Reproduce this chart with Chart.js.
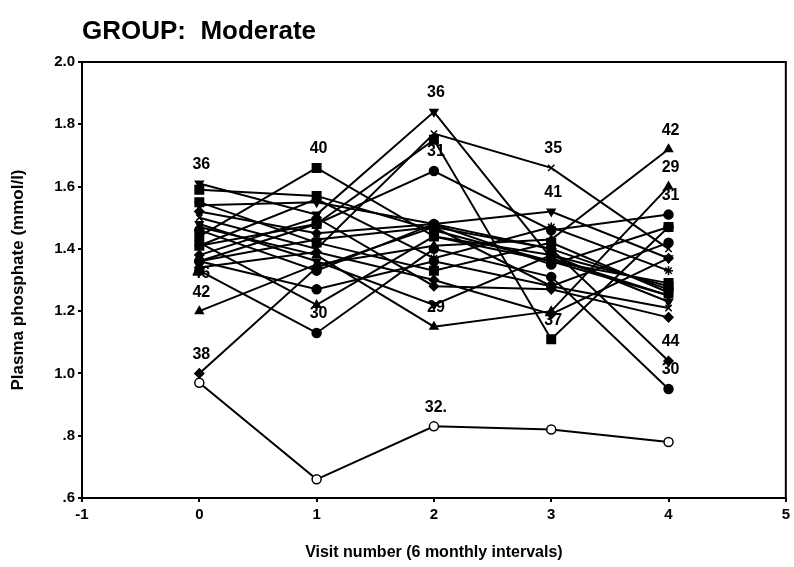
<!DOCTYPE html>
<html>
<head>
<meta charset="utf-8">
<script src="https://cdn.jsdelivr.net/npm/chart.js@4/dist/chart.umd.min.js"></script>
<style>
  html, body { margin: 0; padding: 0; background: #fff; }
</style>
</head>
<body>
<canvas id="phosChart" width="794" height="567"></canvas>
<script>
// Visits and plasma phosphate per subject (mmol/l)
const visits = [0, 1, 2, 3, 4];

const case32 = [0.97, 0.66, 0.83, 0.82, 0.78];
const case38 = [1.00, 1.34, 1.47, 1.40, 1.27];
const case30 = [1.33, 1.13, 1.40, 1.31, 0.95];
const case36 = [1.61, 1.51, 1.84, 1.37, 1.25];
const case35 = [1.50, 1.40, 1.77, 1.66, 1.40];
const case31 = [1.36, 1.48, 1.65, 1.46, 1.51];
const case41 = [1.54, 1.55, 1.48, 1.52, 1.37];
const case29 = [1.47, 1.38, 1.15, 1.20, 1.60];
const case42 = [1.20, 1.35, 1.41, 1.43, 1.72];
const case37 = [1.41, 1.48, 1.75, 1.11, 1.47];
const case40 = [1.44, 1.66, 1.44, 1.38, 1.28];
const case44 = [1.52, 1.45, 1.48, 1.40, 1.04];
const case46 = [1.36, 1.27, 1.36, 1.28, 1.42];
const case33 = [1.59, 1.57, 1.46, 1.36, 1.29];
const case34 = [1.55, 1.42, 1.33, 1.42, 1.26];
const case39 = [1.38, 1.50, 1.28, 1.27, 1.18];
const case43 = [1.46, 1.33, 1.48, 1.35, 1.47];
const case45 = [1.42, 1.22, 1.44, 1.36, 1.25];
const case47 = [1.36, 1.43, 1.47, 1.28, 1.21];
const case48 = [1.48, 1.36, 1.22, 1.38, 1.23];
const case49 = [1.41, 1.56, 1.37, 1.47, 1.33];
const case50 = [1.34, 1.39, 1.30, 1.19, 1.37];

const caseIds = ['32', '38', '30', '36', '35', '31', '41', '29', '42', '37', '40',
                 '44', '46', '33', '34', '39', '43', '45', '47', '48', '49', '50'];
const caseValues = [case32, case38, case30, case36, case35, case31, case41, case29, case42, case37, case40,
                    case44, case46, case33, case34, case39, case43, case45, case47, case48, case49, case50];
const caseMarkers = ['open', 'diamond', 'circle', 'down', 'x', 'circle', 'down', 'up', 'up', 'square', 'square',
                     'diamond', 'circle', 'square', 'square', 'diamond', 'circle', 'up', 'x', 'down', 'star', 'diamond'];

// Outlying values tagged with their case number: [case, visit, text]
const caseTags = [
  ['36', 0, '36'], ['46', 0, '46'], ['42', 0, '42'], ['38', 0, '38'],
  ['40', 1, '40'], ['30', 1, '30'],
  ['36', 2, '36'], ['31', 2, '31'], ['29', 2, '29'], ['32', 2, '32.'],
  ['35', 3, '35'], ['41', 3, '41'], ['37', 3, '37'],
  ['42', 4, '42'], ['29', 4, '29'], ['31', 4, '31'], ['44', 4, '44'], ['30', 4, '30']
];

const groupTitle = 'GROUP:  Moderate';
const xTitle = 'Visit number (6 monthly intervals)';
const yTitle = 'Plasma phosphate (mmol/l)';

const markerStyle = {
  open:    { pointStyle: 'circle', rotation: 0, fill: '#fff' },
  circle:  { pointStyle: 'circle', rotation: 0, fill: '#000' },
  square:  { pointStyle: 'rect', rotation: 0, fill: '#000' },
  diamond: { pointStyle: 'rectRot', rotation: 0, fill: '#000' },
  up:      { pointStyle: 'triangle', rotation: 0, fill: '#000' },
  down:    { pointStyle: 'triangle', rotation: 180, fill: '#000' },
  x:       { pointStyle: 'crossRot', rotation: 0, fill: '#000' },
  star:    { pointStyle: 'star', rotation: 0, fill: '#000' }
};

const datasets = caseValues.map((vals, i) => {
  const m = markerStyle[caseMarkers[i]];
  return {
    label: caseIds[i],
    data: vals.map((v, j) => ({ x: visits[j], y: v })),
    borderColor: '#000',
    borderWidth: 2,
    tension: 0,
    pointStyle: m.pointStyle,
    pointRotation: m.rotation,
    pointBackgroundColor: m.fill,
    pointBorderColor: '#000',
    pointBorderWidth: 1.5,
    pointRadius: caseMarkers[i] === 'square' ? 6 : 4.5
  };
});

const FONT = '"Liberation Sans", Arial, sans-serif';

// Frame, heading and case number tags
const annotate = {
  id: 'annotate',
  afterDatasetsDraw(chart) {
    const { ctx, chartArea, scales } = chart;
    ctx.save();
    ctx.strokeStyle = '#000';
    ctx.lineWidth = 2;
    ctx.strokeRect(chartArea.left, chartArea.top,
      chartArea.right - chartArea.left, chartArea.bottom - chartArea.top);

    ctx.fillStyle = '#000';
    ctx.font = 'bold 26px ' + FONT;
    ctx.textAlign = 'left';
    ctx.textBaseline = 'alphabetic';
    ctx.fillText(groupTitle, 82, 39);

    ctx.font = 'bold 16px ' + FONT;
    ctx.textAlign = 'center';
    ctx.textBaseline = 'middle';
    caseTags.forEach(([id, visit, text]) => {
      const vals = caseValues[caseIds.indexOf(id)];
      const px = scales.x.getPixelForValue(visits[visit]);
      const py = scales.y.getPixelForValue(vals[visit]);
      // the 46 tag sits just under its marker, the rest above
      const dy = (id === '46' && visit === 0) ? 12 : -19;
      ctx.fillText(text, px + 2, py + dy);
    });
    ctx.restore();
  }
};

new Chart(document.getElementById('phosChart'), {
  type: 'line',
  data: { datasets },
  options: {
    responsive: false,
    animation: false,
    layout: { padding: { top: 62, right: 4, left: 0, bottom: 0 } },
    plugins: { legend: { display: false }, tooltip: { enabled: false } },
    scales: {
      x: {
        type: 'linear', min: -1, max: 5,
        ticks: { stepSize: 1, color: '#000', font: { family: FONT, weight: 'bold', size: 15 }, padding: 4 },
        grid: { drawOnChartArea: false, drawTicks: true, tickLength: 4, color: '#000', lineWidth: 2 },
        border: { display: true, color: '#000', width: 2 },
        title: { display: true, text: xTitle, color: '#000',
                 font: { family: FONT, weight: 'bold', size: 16 }, padding: { top: 0, bottom: 5 } },
        afterFit(scale) { scale.height = 69; }
      },
      y: {
        type: 'linear', min: 0.6, max: 2.0,
        ticks: {
          stepSize: 0.2, color: '#000', font: { family: FONT, weight: 'bold', size: 15 }, padding: 3,
          callback: v => (v < 1 ? v.toFixed(1).replace(/^0/, '') : v.toFixed(1))
        },
        grid: { drawOnChartArea: false, drawTicks: true, tickLength: 4, color: '#000', lineWidth: 2 },
        border: { display: true, color: '#000', width: 2 },
        title: { display: true, text: yTitle, color: '#000',
                 font: { family: FONT, weight: 'bold', size: 17 }, padding: { top: 8, bottom: 0 } },
        afterFit(scale) { scale.width = 82; }
      }
    }
  },
  plugins: [annotate]
});
</script>
</body>
</html>
